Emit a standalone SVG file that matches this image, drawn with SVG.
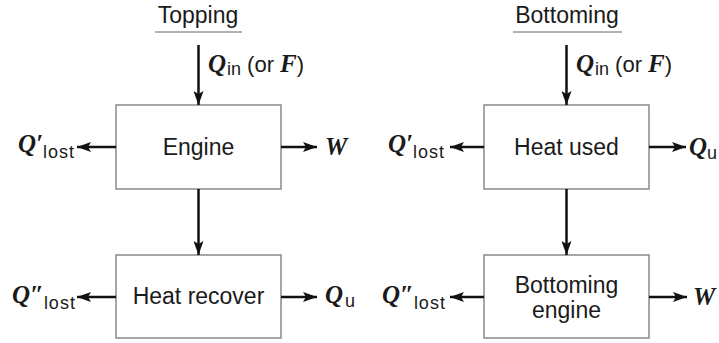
<svg xmlns="http://www.w3.org/2000/svg" width="719" height="343" viewBox="0 0 719 343">
<defs>
<marker id="ah" viewBox="0 0 14 10" refX="14" refY="5" markerWidth="14" markerHeight="10" markerUnits="userSpaceOnUse" orient="auto">
<path d="M0,0 L14,5 L0,10 L3,5 Z" fill="#111"/>
</marker>
</defs>
<style>
.box{fill:#fff;stroke:#8a8a8a;stroke-width:1.5}
.lbl{font-family:"Liberation Sans",Arial,sans-serif;font-size:23px;fill:#1a1a1a;text-anchor:middle}
.ttl{font-family:"Liberation Sans",Arial,sans-serif;font-size:23px;fill:#1a1a1a;text-anchor:middle}
.ul{stroke:#666;stroke-width:1}
.arr{stroke:#111;stroke-width:2.5;fill:none;marker-end:url(#ah)}
.m{font-family:"Liberation Serif","Times New Roman",serif;font-style:italic;font-weight:bold;font-size:25px;fill:#1a1a1a}
.s{font-family:"Liberation Sans",Arial,sans-serif;font-style:normal;font-weight:normal;font-size:18px;fill:#1a1a1a}
.n{font-family:"Liberation Sans",Arial,sans-serif;font-style:normal;font-weight:normal;font-size:22px;fill:#1a1a1a}
</style>
<g id="title-topping">
<text class="ttl" x="198" y="23">Topping</text>
<line class="ul" x1="155" y1="32" x2="242" y2="32"/>
</g>
<g id="title-bottoming">
<text class="ttl" x="567" y="23">Bottoming</text>
<line class="ul" x1="513" y1="32" x2="622" y2="32"/>
</g>
<g id="engine">
<rect class="box" x="116" y="105" width="165" height="84"/>
<text class="lbl" x="198.5" y="155">Engine</text>
</g>
<g id="heat-recover">
<rect class="box" x="116" y="255" width="165" height="83"/>
<text class="lbl" x="198.5" y="304">Heat recover</text>
</g>
<g id="heat-used">
<rect class="box" x="484" y="105" width="165" height="84"/>
<text class="lbl" x="566.5" y="155">Heat used</text>
</g>
<g id="bottoming-engine">
<rect class="box" x="484" y="255" width="165" height="83"/>
<text class="lbl" x="566.5" y="293">Bottoming</text>
<text class="lbl" x="566.5" y="318">engine</text>
</g>
<g id="connectors">
<line class="arr" x1="198.5" y1="45" x2="198.5" y2="105"/>
<line class="arr" x1="198.5" y1="189" x2="198.5" y2="255"/>
<line class="arr" x1="116" y1="147" x2="77" y2="147"/>
<line class="arr" x1="281" y1="147" x2="317" y2="147"/>
<line class="arr" x1="116" y1="297" x2="77" y2="297"/>
<line class="arr" x1="281" y1="297" x2="317" y2="297"/>
<line class="arr" x1="566.5" y1="45" x2="566.5" y2="105"/>
<line class="arr" x1="566.5" y1="189" x2="566.5" y2="255"/>
<line class="arr" x1="484" y1="147" x2="450" y2="147"/>
<line class="arr" x1="649" y1="147" x2="686" y2="147"/>
<line class="arr" x1="484" y1="297" x2="450" y2="297"/>
<line class="arr" x1="649" y1="297" x2="687" y2="297"/>
</g>
<g id="labels">
<text class="m" x="208" y="72">Q<tspan class="s" dy="3" dx="1">in</tspan><tspan class="n" dy="-3" dx="6">(or </tspan><tspan>F</tspan><tspan class="n">)</tspan></text>
<text class="m" x="576" y="72">Q<tspan class="s" dy="3" dx="1">in</tspan><tspan class="n" dy="-3" dx="6">(or </tspan><tspan>F</tspan><tspan class="n">)</tspan></text>
<text class="m" x="18" y="152">Q′<tspan class="s" dy="6" letter-spacing="1">lost</tspan></text>
<text class="m" x="12" y="303">Q″<tspan class="s" dy="6" letter-spacing="1">lost</tspan></text>
<text class="m" x="325" y="155">W</text>
<text class="m" x="325" y="303">Q<tspan class="s" dy="4" dx="2">u</tspan></text>
<text class="m" x="388" y="152">Q′<tspan class="s" dy="6" letter-spacing="1">lost</tspan></text>
<text class="m" x="382" y="303">Q″<tspan class="s" dy="6" letter-spacing="1">lost</tspan></text>
<text class="m" x="689" y="155">Q<tspan class="s" dy="4" dx="0" font-size="15">u</tspan></text>
<text class="m" x="693" y="305">W</text>
</g>
</svg>
